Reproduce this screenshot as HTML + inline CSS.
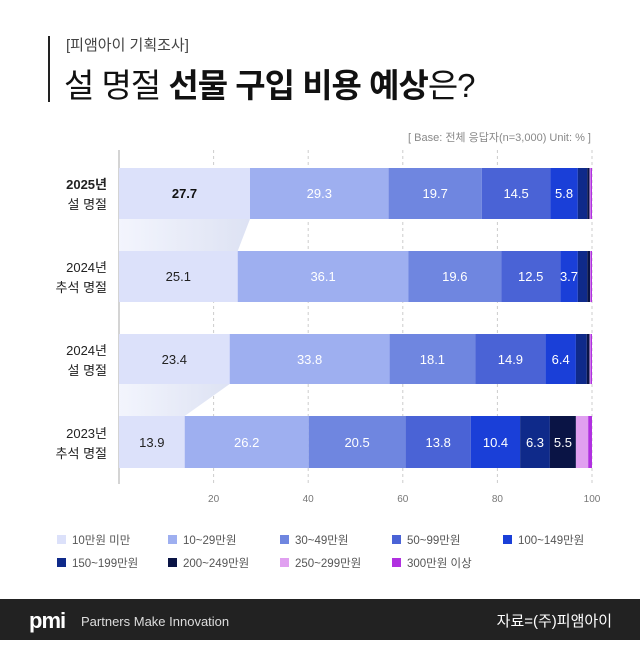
<!DOCTYPE html><html><head><meta charset="utf-8"><style>
body{margin:0;background:#fff;font-family:"Liberation Sans","Noto Sans CJK KR",sans-serif}
</style></head><body>
<svg width="640" height="640" xmlns="http://www.w3.org/2000/svg" font-family="Liberation Sans, Noto Sans CJK KR, sans-serif">
<defs><linearGradient id="g" x1="0" x2="1"><stop offset="0" stop-color="#f3f5fd"/><stop offset="1" stop-color="#dde2f3"/></linearGradient></defs>
<rect x="48" y="36" width="2" height="66" fill="#222"/>
<text x="66" y="50" font-size="15" fill="#444">[피앰아이 기획조사]</text>
<text x="64" y="97" font-size="33" fill="#111" letter-spacing="-1">설 명절 <tspan font-weight="bold">선물 구입 비용 예상</tspan>은?</text>
<text x="591" y="141" font-size="11" fill="#888" text-anchor="end">[ Base: 전체 응답자(n=3,000) Unit: % ]</text>
<g stroke="#ccc" stroke-dasharray="3,3"><line x1="213.6" y1="150" x2="213.6" y2="484"/><line x1="308.2" y1="150" x2="308.2" y2="484"/><line x1="402.8" y1="150" x2="402.8" y2="484"/><line x1="497.4" y1="150" x2="497.4" y2="484"/><line x1="592" y1="150" x2="592" y2="484"/></g>
<line x1="119" y1="150" x2="119" y2="484" stroke="#aaa"/>
<polygon points="119,219 250,219 237.7,251 119,251" fill="url(#g)"/>
<polygon points="119,384 229.7,384 184.7,416 119,416" fill="url(#g)"/>
<g>
<rect x="119" y="168" width="131" height="51" fill="#dce1fa"/><rect x="250" y="168" width="138.6" height="51" fill="#9eaff0"/><rect x="388.6" y="168" width="93.2" height="51" fill="#6f86e0"/><rect x="481.8" y="168" width="68.6" height="51" fill="#4a63d6"/><rect x="550.4" y="168" width="27.4" height="51" fill="#1a3fd8"/><rect x="577.8" y="168" width="9.5" height="51" fill="#0f2a8a"/><rect x="587.3" y="168" width="2.3" height="51" fill="#0a1445"/><rect x="589.6" y="168" width="1" height="51" fill="#e0a0f0"/><rect x="590.6" y="168" width="1.4" height="51" fill="#b030e0"/>
<rect x="119" y="251" width="118.7" height="51" fill="#dce1fa"/><rect x="237.7" y="251" width="170.8" height="51" fill="#9eaff0"/><rect x="408.5" y="251" width="92.7" height="51" fill="#6f86e0"/><rect x="501.2" y="251" width="59.1" height="51" fill="#4a63d6"/><rect x="560.3" y="251" width="17.5" height="51" fill="#1a3fd8"/><rect x="577.8" y="251" width="9.5" height="51" fill="#0f2a8a"/><rect x="587.3" y="251" width="2.8" height="51" fill="#0a1445"/><rect x="590.1" y="251" width="0.5" height="51" fill="#e0a0f0"/><rect x="590.6" y="251" width="1.4" height="51" fill="#b030e0"/>
<rect x="119" y="334" width="110.7" height="50" fill="#dce1fa"/><rect x="229.7" y="334" width="159.9" height="50" fill="#9eaff0"/><rect x="389.6" y="334" width="85.6" height="50" fill="#6f86e0"/><rect x="475.2" y="334" width="70.4" height="50" fill="#4a63d6"/><rect x="545.6" y="334" width="30.3" height="50" fill="#1a3fd8"/><rect x="575.9" y="334" width="10.9" height="50" fill="#0f2a8a"/><rect x="586.8" y="334" width="2.8" height="50" fill="#0a1445"/><rect x="589.6" y="334" width="1" height="50" fill="#e0a0f0"/><rect x="590.6" y="334" width="1.4" height="50" fill="#b030e0"/>
<rect x="119" y="416" width="65.7" height="52" fill="#dce1fa"/><rect x="184.7" y="416" width="124" height="52" fill="#9eaff0"/><rect x="308.7" y="416" width="96.9" height="52" fill="#6f86e0"/><rect x="405.6" y="416" width="65.3" height="52" fill="#4a63d6"/><rect x="470.9" y="416" width="49.2" height="52" fill="#1a3fd8"/><rect x="520.1" y="416" width="29.8" height="52" fill="#0f2a8a"/><rect x="549.9" y="416" width="26" height="52" fill="#0a1445"/><rect x="575.9" y="416" width="12.3" height="52" fill="#e0a0f0"/><rect x="588.2" y="416" width="3.8" height="52" fill="#b030e0"/>
</g>
<g font-size="13" text-anchor="middle" fill="#fff">
<text x="184.5" y="198" fill="#111" font-weight="bold">27.7</text><text x="319.3" y="198">29.3</text><text x="435.2" y="198">19.7</text><text x="516.1" y="198">14.5</text><text x="564.1" y="198">5.8</text>
<text x="178.3" y="281" fill="#222">25.1</text><text x="323.1" y="281">36.1</text><text x="454.8" y="281">19.6</text><text x="530.7" y="281">12.5</text><text x="569" y="281">3.7</text>
<text x="174.3" y="364" fill="#222">23.4</text><text x="309.6" y="364">33.8</text><text x="432.4" y="364">18.1</text><text x="510.4" y="364">14.9</text><text x="560.7" y="364">6.4</text>
<text x="151.8" y="447" fill="#222">13.9</text><text x="246.7" y="447">26.2</text><text x="357.1" y="447">20.5</text><text x="438.2" y="447">13.8</text><text x="495.5" y="447">10.4</text><text x="535" y="447">6.3</text><text x="562.9" y="447">5.5</text>
</g>
<g font-size="13" text-anchor="end" fill="#222">
<text x="107" y="189" font-weight="bold">2025년</text><text x="107" y="209">설 명절</text>
<text x="107" y="272">2024년</text><text x="107" y="292">추석 명절</text>
<text x="107" y="355">2024년</text><text x="107" y="375">설 명절</text>
<text x="107" y="438">2023년</text><text x="107" y="458">추석 명절</text>
</g>
<g font-size="10" fill="#777" text-anchor="middle"><text x="213.6" y="502">20</text><text x="308.2" y="502">40</text><text x="402.8" y="502">60</text><text x="497.4" y="502">80</text><text x="592" y="502">100</text></g>
<g font-size="11.5" fill="#555">
<rect x="57" y="535" width="9" height="9" fill="#dce1fa"/><text x="72" y="544">10만원 미만</text>
<rect x="168" y="535" width="9" height="9" fill="#9eaff0"/><text x="183" y="544">10~29만원</text>
<rect x="280" y="535" width="9" height="9" fill="#6f86e0"/><text x="295" y="544">30~49만원</text>
<rect x="392" y="535" width="9" height="9" fill="#4a63d6"/><text x="407" y="544">50~99만원</text>
<rect x="503" y="535" width="9" height="9" fill="#1a3fd8"/><text x="518" y="544">100~149만원</text>
<rect x="57" y="558" width="9" height="9" fill="#0f2a8a"/><text x="72" y="567">150~199만원</text>
<rect x="168" y="558" width="9" height="9" fill="#0a1445"/><text x="183" y="567">200~249만원</text>
<rect x="280" y="558" width="9" height="9" fill="#e0a0f0"/><text x="295" y="567">250~299만원</text>
<rect x="392" y="558" width="9" height="9" fill="#b030e0"/><text x="407" y="567">300만원 이상</text>
</g>
<rect x="0" y="599" width="640" height="41" fill="#222"/>
<text x="29" y="628" font-size="22" font-weight="bold" fill="#fff" letter-spacing="-1">pmi</text>
<text x="81" y="626" font-size="13" fill="#ddd">Partners Make Innovation</text>
<text x="612" y="626" font-size="15" fill="#fff" text-anchor="end">자료=(주)피앰아이</text>
</svg>
</body></html>
